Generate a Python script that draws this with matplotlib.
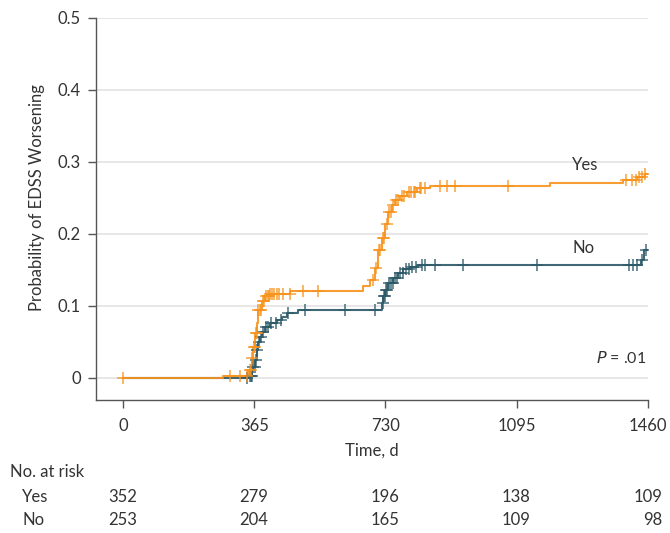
import numpy as np
from matplotlib import pyplot as plt
from matplotlib.transforms import offset_copy

# Kaplan-Meier style cumulative probability of EDSS worsening
yes_t = [0, 278, 348, 359, 361, 367, 373, 375, 387, 395, 409, 465, 667, 687, 701, 709,
         720, 729, 737, 748, 756, 770, 790, 818, 854, 1187, 1390, 1430, 1452]
yes_p = [0, 0.003, 0.011, 0.028, 0.043, 0.062, 0.076, 0.094, 0.106, 0.113, 0.117, 0.121,
         0.128, 0.136, 0.153, 0.178, 0.194, 0.213, 0.230, 0.240, 0.247, 0.253, 0.258,
         0.263, 0.267, 0.271, 0.275, 0.279, 0.283]
yes_censor = [0, 298, 325, 345, 352, 356, 360, 363, 366, 369, 372, 376, 380, 385, 390,
              393, 398, 402, 405, 410, 415, 420, 428, 435, 445, 464, 500, 542, 695, 705,
              712, 716, 722, 726, 733, 740, 745, 752, 760, 766, 775, 782, 795, 800, 808,
              812, 825, 830, 840, 882, 900, 923, 1071, 1399, 1415, 1426, 1435, 1443, 1452]

no_t = [0, 350, 359, 361, 367, 373, 375, 381, 387, 395, 409, 428, 442, 456, 487, 720,
        723, 729, 737, 751, 765, 779, 798, 820, 1440, 1450]
no_p = [0, 0.003, 0.011, 0.015, 0.025, 0.039, 0.050, 0.057, 0.064, 0.071, 0.076, 0.080,
        0.085, 0.090, 0.094, 0.104, 0.113, 0.122, 0.132, 0.139, 0.146, 0.151, 0.154,
        0.156, 0.164, 0.178]
no_censor = [345, 352, 355, 358, 362, 366, 370, 374, 378, 384, 390, 398, 403, 412, 425,
             440, 459, 506, 617, 700, 722, 725, 728, 732, 735, 740, 745, 750, 756, 762,
             770, 778, 786, 795, 805, 815, 831, 840, 868, 946, 1151, 1407, 1418, 1429,
             1442, 1455]

risk_times = [0, 365, 730, 1095, 1460]
risk_yes = [352, 279, 196, 138, 109]
risk_no = [253, 204, 165, 109, 98]

orange = "#F7931E"
teal = "#2C5966"
text_c = "#333333"
plt.rcParams["font.family"] = ["Lato", "DejaVu Sans"]
fs = 12

fig = plt.figure(figsize=(6.7, 5.33), dpi=100)
ax = fig.add_axes([96 / 670, 1 - 400 / 533, 552 / 670, 382 / 533])


def at(times, probs, c):
    idx = np.searchsorted(times, c, side="right") - 1
    return np.asarray(probs)[idx]


for t, p, cens, col in [(no_t, no_p, no_censor, teal), (yes_t, yes_p, yes_censor, orange)]:
    t_full = list(t) + [1460]
    p_full = list(p) + [p[-1]]
    ax.step(t_full, p_full, where="post", color=col, lw=1.5, alpha=0.9, zorder=3)
    ax.plot(cens, at(t, p, cens), ls="none", marker="+", ms=9, mew=1.2,
            color=col, alpha=0.8, zorder=4)

ax.set_xlim(-75, 1460)
ax.set_ylim(-0.031, 0.5)
ax.set_xticks(risk_times)
ax.set_yticks([0, 0.1, 0.2, 0.3, 0.4, 0.5])
ax.set_yticklabels(["0", "0.1", "0.2", "0.3", "0.4", "0.5"])
for y in [0, 0.1, 0.2, 0.3, 0.4, 0.5]:
    ax.axhline(y, color="#e3e3e3", lw=1.2, zorder=1)

for s in ["top", "right"]:
    ax.spines[s].set_visible(False)
for s in ["left", "bottom"]:
    ax.spines[s].set_color("#555555")
    ax.spines[s].set_linewidth(1.0)
ax.tick_params(direction="out", length=6, width=1.0, color="#555555",
               labelsize=fs, labelcolor=text_c, pad=5)
ax.tick_params(axis="x", pad=7)

ax.set_xlabel("Time, d", fontsize=fs, color=text_c, labelpad=6)
ax.set_ylabel("Probability of EDSS Worsening", fontsize=fs, color=text_c)
ax.yaxis.set_label_coords(-0.092, 0.529)

ax.text(1250, 0.296, "Yes", fontsize=fs, color=text_c, ha="left", va="center")
ax.text(1250, 0.18, "No", fontsize=fs, color=text_c, ha="left", va="center")
ax.text(1455, 0.028, "$P$ = .01", fontsize=11.5, color=text_c, ha="right", va="center")

# number at risk table below the axis
fig.text(10 / 670, 1 - 472 / 533, "No. at risk", fontsize=fs, color=text_c, va="center")
fig.text(22 / 670, 1 - 497 / 533, "Yes", fontsize=fs, color=text_c, va="center")
fig.text(22 / 670, 1 - 520 / 533, "No", fontsize=fs, color=text_c, va="center")
trans = offset_copy(ax.get_xaxis_transform(), fig=fig, x=14, units="dots")
y_yes = -(497 - 400) / 382
y_no = -(520 - 400) / 382
for t, ny, nn in zip(risk_times, risk_yes, risk_no):
    ax.text(t, y_yes, str(ny), transform=trans, fontsize=fs, color=text_c,
            ha="right", va="center", clip_on=False)
    ax.text(t, y_no, str(nn), transform=trans, fontsize=fs, color=text_c,
            ha="right", va="center", clip_on=False)

fig.savefig("out.png", dpi=100)
